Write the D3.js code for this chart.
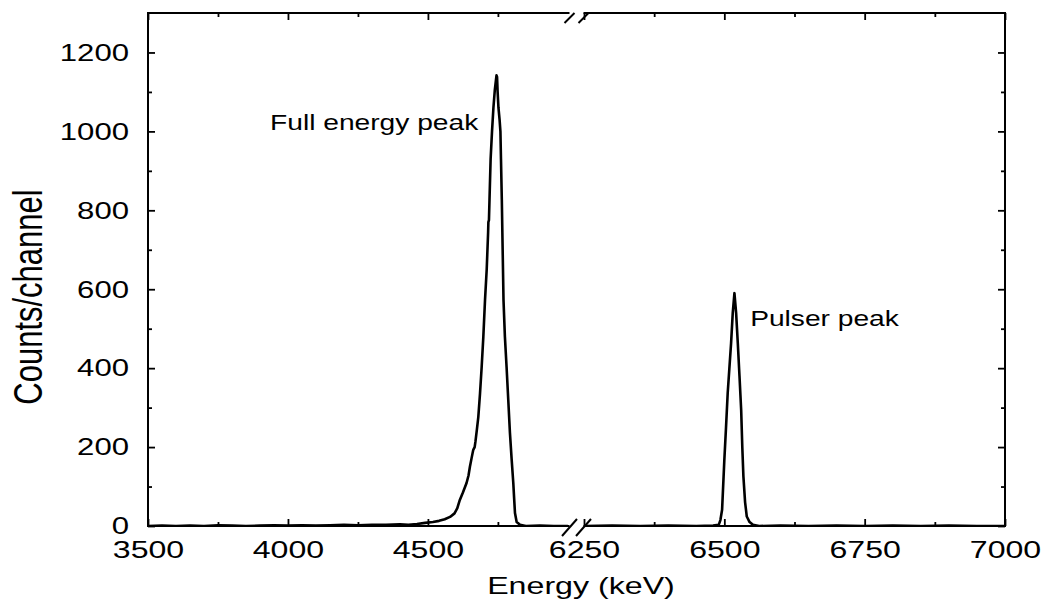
<!DOCTYPE html>
<html>
<head>
<meta charset="utf-8">
<script src="https://cdn.jsdelivr.net/npm/d3@7"></script>
<style>
  body { margin: 0; background: #fff; }
  text { font-family: "Liberation Sans", Arial, sans-serif; fill: #000; }
</style>
</head>
<body>
<div id="chart"></div>
<script>
// spectrum before the axis break (keV, counts per channel)
var energyLow = [3500,3550,3600,3650,3700,3750,3800,3850,3900,3950,4000,4050,4100,4150,4200,4250,4300,4350,4400,
  4430,4461,4490,4518,4540,4560,4579,4595,4605,4614,
  4625,4638,4645,4650,4656,4662,4667,4670,4675,4680,
  4686,4692,4698,4704,4710,4715,4716,4718,4720,4724,
  4729,4734,4739,4743,4745,4747,4749,4752,4756,4759,
  4761,4764,4767,4770,4775,4781,4787,4793,4799,4805,
  4808,4811,4817,4829,4850,4900,4950,5000];
var countsLow = [0,1,0,1,0,2,1,0,1,2,1,2,1,2,3,2,3,3,4,
  3,5,8,10,13,17,23,32,45,66,
  85,109,128,150,172,193,200,215,245,276,
  335,403,480,573,650,743,770,775,827,930,
  1000,1060,1105,1130,1142,1138,1100,1060,1030,1000,
  930,827,700,573,480,403,320,236,170,109,
  70,33,10,3,0,1,0,0];

// spectrum after the axis break
var energyHigh = [6250,6300,6350,6400,6450,6480,6490,6493,6496,6500,
  6503,6506,6509,6512,6515,6518,6521,6524,6527,6530,
  6532,6534,6537,6540,6545,6551,6562,
  6600,6650,6700,6750,6800,6850,6900,6950,7000];
var countsHigh = [0,1,0,1,0,1,3,15,41,167,
  250,337,400,463,540,590,540,463,380,294,
  200,125,60,24,10,3,0,
  1,0,1,0,1,0,1,0,0];

// ticks
var yMajor = [0,200,400,600,800,1000,1200];
var yMinor = [100,300,500,700,900,1100];
var xMajorLow = [3500,4000,4500];
var xMinorLow = [3750,4250,4750];
var xMajorHigh = [6250,6500,6750,7000];
var xMinorHigh = [6375,6625,6875];

var margin = {top: 13, left: 148},
    width = 857,
    height = 513;

var svg = d3.select("#chart")
  .append("svg")
    .attr("width", 1046)
    .attr("height", 610);

svg.append("rect").attr("width", 1046).attr("height", 610).attr("fill", "#fff");

var chartGroup = svg.append("g")
    .attr("transform", "translate(" + margin.left + "," + margin.top + ")");

// the picture is stretched sideways, so text is too
function stretch(sel, k) {
  sel.each(function() {
    d3.select(this)
      .attr("textLength", this.getComputedTextLength() * k)
      .attr("lengthAdjust", "spacingAndGlyphs");
  });
}

var y = d3.scaleLinear().domain([0, 1300]).range([height, 0]);
var x1 = d3.scaleLinear().domain([3500, 5004]).range([0, 421]);
var x2 = d3.scaleLinear().domain([6250, 7000]).range([436, width]);
var breakA = 421.5, breakB = 435.5;
var fmt = d3.format("d");

// clip for each piece of the axis
var defs = svg.append("defs");
defs.append("clipPath").attr("id", "c1").append("rect")
  .attr("x", 0).attr("y", -5).attr("width", 421).attr("height", height + 5);
defs.append("clipPath").attr("id", "c2").append("rect")
  .attr("x", 436).attr("y", -5).attr("width", width - 436).attr("height", height + 5);

function styleAxis(g) {
  g.select(".domain").remove();
  g.selectAll("line").attr("stroke", "#000").attr("stroke-width", 1.8);
  g.selectAll("text")
    .attr("font-family", "Liberation Sans, Arial, sans-serif")
    .attr("font-size", 24.5)
    .attr("fill", "#000");
}

// y axis (left with labels, right mirrored)
chartGroup.append("g")
  .call(d3.axisLeft(y).tickValues(yMajor).tickFormat(fmt).tickSize(-7).tickSizeOuter(0).tickPadding(19))
  .call(styleAxis)
  .call(function(g) { stretch(g.selectAll("text"), 1.27); });
chartGroup.append("g")
  .call(d3.axisLeft(y).tickValues(yMinor).tickSize(-4).tickSizeOuter(0).tickFormat(""))
  .call(styleAxis);
chartGroup.append("g").attr("transform", "translate(" + width + ",0)")
  .call(d3.axisRight(y).tickValues(yMajor).tickSize(-7).tickSizeOuter(0).tickFormat(""))
  .call(styleAxis);
chartGroup.append("g").attr("transform", "translate(" + width + ",0)")
  .call(d3.axisRight(y).tickValues(yMinor).tickSize(-4).tickSizeOuter(0).tickFormat(""))
  .call(styleAxis);

// x axes, one per piece
[[x1, xMajorLow, xMinorLow], [x2, xMajorHigh, xMinorHigh]].forEach(function(p) {
  chartGroup.append("g").attr("transform", "translate(0," + height + ")")
    .call(d3.axisBottom(p[0]).tickValues(p[1]).tickFormat(fmt).tickSize(-7).tickSizeOuter(0).tickPadding(15))
    .call(styleAxis)
    .call(function(g) { stretch(g.selectAll("text"), 1.31); });
  chartGroup.append("g").attr("transform", "translate(0," + height + ")")
    .call(d3.axisBottom(p[0]).tickValues(p[2]).tickSize(-4).tickSizeOuter(0).tickFormat(""))
    .call(styleAxis);
  chartGroup.append("g")
    .call(d3.axisTop(p[0]).tickValues(p[1]).tickSize(-7).tickSizeOuter(0).tickFormat(""))
    .call(styleAxis);
  chartGroup.append("g")
    .call(d3.axisTop(p[0]).tickValues(p[2]).tickSize(-4).tickSizeOuter(0).tickFormat(""))
    .call(styleAxis);
});

// frame with a gap at the break
var frame = chartGroup.append("g").attr("stroke", "#000").attr("stroke-width", 2).attr("fill", "none");
frame.append("path").attr("d",
  "M" + breakA + ",0H0V" + height + "H" + breakA +
  "M" + breakB + ",0H" + width + "V" + height + "H" + breakB);

// break marks
[breakA, breakB].forEach(function(bx) {
  frame.append("line").attr("x1", bx - 7.5).attr("y1", height + 10).attr("x2", bx + 7.5).attr("y2", height - 7);
  frame.append("line").attr("x1", bx - 5).attr("y1", 10).attr("x2", bx + 5).attr("y2", 0);
});

// spectrum
var lowData = energyLow.map(function(e, i) { return {e: e, c: countsLow[i]}; });
var highData = energyHigh.map(function(e, i) { return {e: e, c: countsHigh[i]}; });

chartGroup.append("path")
  .datum(lowData)
  .attr("clip-path", "url(#c1)")
  .attr("fill", "none")
  .attr("stroke", "#000")
  .attr("stroke-width", 2.6)
  .attr("stroke-linejoin", "round")
  .attr("d", d3.line().x(function(d) { return x1(d.e); }).y(function(d) { return y(d.c); }));

chartGroup.append("path")
  .datum(highData)
  .attr("clip-path", "url(#c2)")
  .attr("fill", "none")
  .attr("stroke", "#000")
  .attr("stroke-width", 2.6)
  .attr("stroke-linejoin", "round")
  .attr("d", d3.line().x(function(d) { return x2(d.e); }).y(function(d) { return y(d.c); }));

// peak labels
chartGroup.append("text")
  .attr("x", x1(3936))
  .attr("y", y(1004))
  .attr("font-size", 22)
  .text("Full energy peak")
  .call(stretch, 1.28);

chartGroup.append("text")
  .attr("x", x2(6546))
  .attr("y", y(507))
  .attr("font-size", 22)
  .text("Pulser peak")
  .call(stretch, 1.28);

// axis titles
svg.append("text")
  .attr("x", margin.left + 433)
  .attr("y", 594)
  .attr("text-anchor", "middle")
  .attr("font-size", 24)
  .text("Energy (keV)")
  .call(stretch, 1.34);

svg.append("text")
  .attr("transform", "translate(42,297) scale(1.3,1) rotate(-90)")
  .attr("text-anchor", "middle")
  .attr("font-size", 31)
  .text("Counts/channel");
</script>
</body>
</html>
